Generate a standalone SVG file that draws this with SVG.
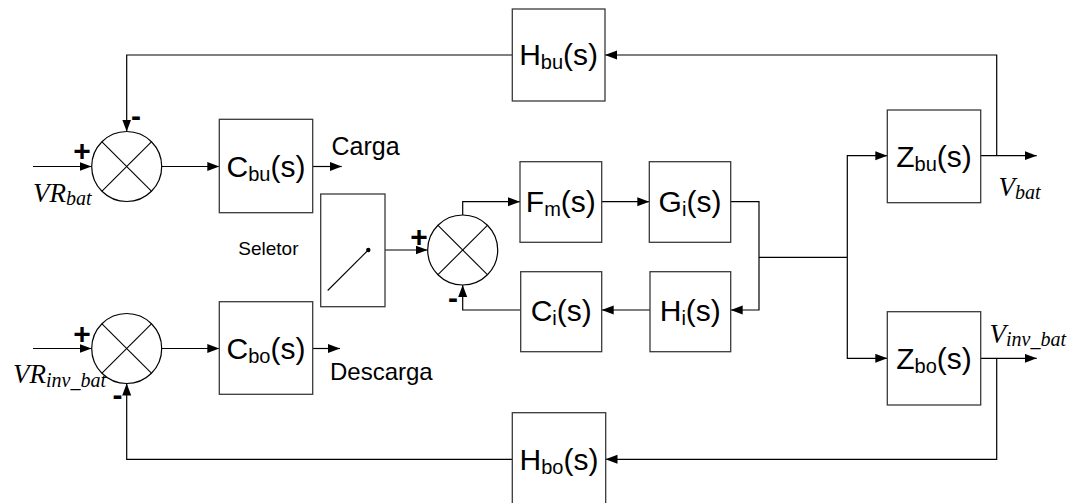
<svg xmlns="http://www.w3.org/2000/svg" width="1068" height="503" viewBox="0 0 1068 503">
<style>
.box{fill:#fff;stroke:#3a3a3a;stroke-width:1.3}
.sum{fill:#fff;stroke:#000;stroke-width:1.2}
.x{stroke:#000;stroke-width:1.1}
.w{fill:none;stroke:#000;stroke-width:1.2}
.wa{fill:none;stroke:#000;stroke-width:1.2;marker-end:url(#ah)}
.bt{font-family:"Liberation Sans",Arial,sans-serif;font-size:30px;fill:#000;text-anchor:middle}
.sub{font-size:20px}
.lb{font-family:"Liberation Sans",Arial,sans-serif;font-size:25px;fill:#000}
.sg{font-family:"Liberation Sans",Arial,sans-serif;font-size:30px;font-weight:bold;fill:#000;text-anchor:middle}
.mv{font-family:"Liberation Serif","Times New Roman",serif;font-style:italic;font-size:27px;fill:#000}
.ms{font-size:20px}
</style>
<defs>
<marker id="ah" markerUnits="userSpaceOnUse" markerWidth="13" markerHeight="10" refX="12" refY="4.5" orient="auto">
<path d="M0,0 L12,4.5 L0,9 z" fill="#000"/>
</marker>
</defs>

<g id="connectors">
<path class="wa" d="M33,166.5 H91.5"/>
<path class="wa" d="M161.5,166.5 H219.3"/>
<path class="wa" d="M312.7,166.5 H341.7"/>
<path class="wa" d="M996.7,155.7 V55 H605"/>
<path class="wa" d="M512.3,55 H126.7 V131.5"/>
<path class="wa" d="M33,348.5 H91.5"/>
<path class="wa" d="M161.5,348.5 H219.3"/>
<path class="wa" d="M312.7,348.5 H340"/>
<path class="wa" d="M996.7,358.3 V459.3 H605.5"/>
<path class="wa" d="M512.3,459.3 H126.7 V383.5"/>
<path class="wa" d="M368.3,250 H427.5"/>
<path class="wa" d="M462.7,215 V201.7 H520"/>
<path class="wa" d="M601.7,201.7 H649.3"/>
<path class="wa" d="M730.7,201.7 H759 V310 H730.7"/>
<path class="wa" d="M650,310 H601.7"/>
<path class="wa" d="M520.7,310 H462.7 V285"/>
<path class="w" d="M759,257.3 H847.3"/>
<path class="wa" d="M847.3,257.3 V155.7 H887.3"/>
<path class="wa" d="M847.3,257.3 V358.3 H887.3"/>
<path class="wa" d="M980.7,155.7 H1036.7"/>
<path class="wa" d="M980.7,358.3 H1036.7"/>
</g>

<g id="sum1">
<circle class="sum" cx="126.7" cy="166.5" r="35"/>
<line class="x" x1="102" y1="141.8" x2="151.4" y2="191.2"/>
<line class="x" x1="151.4" y1="141.8" x2="102" y2="191.2"/>
<text class="sg" x="82" y="161">+</text>
<text class="sg" x="136" y="126">-</text>
</g>

<g id="sum2">
<circle class="sum" cx="126.7" cy="348.5" r="35"/>
<line class="x" x1="102" y1="323.8" x2="151.4" y2="373.2"/>
<line class="x" x1="151.4" y1="323.8" x2="102" y2="373.2"/>
<text class="sg" x="82" y="344">+</text>
<text class="sg" x="117.5" y="405">-</text>
</g>

<g id="sum3">
<circle class="sum" cx="462.7" cy="250" r="35"/>
<line class="x" x1="438" y1="225.3" x2="487.4" y2="274.7"/>
<line class="x" x1="487.4" y1="225.3" x2="438" y2="274.7"/>
<text class="sg" x="419" y="246.5">+</text>
<text class="sg" x="453" y="307.5">-</text>
</g>

<g id="in-vrbat">
<text class="mv" x="33" y="201.7">VR<tspan class="ms" dy="3.5">bat</tspan></text>
</g>
<g id="in-vrinvbat">
<text class="mv" x="13" y="383.3">VR<tspan class="ms" dy="3.5">inv_bat</tspan></text>
</g>

<g id="Cbu">
<rect class="box" x="219.3" y="119.3" width="93.4" height="93.4"/>
<text class="bt" x="266" y="177">C<tspan class="sub" dy="4">bu</tspan><tspan dy="-4">(s)</tspan></text>
</g>
<text class="lb" x="331.5" y="155">Carga</text>

<g id="Cbo">
<rect class="box" x="219.3" y="301.7" width="93.4" height="92.6"/>
<text class="bt" x="266" y="359">C<tspan class="sub" dy="4">bo</tspan><tspan dy="-4">(s)</tspan></text>
</g>
<text class="lb" x="330" y="380" style="font-size:24px">Descarga</text>

<g id="Hbu">
<rect class="box" x="512.3" y="9" width="92.7" height="92"/>
<text class="bt" x="558.6" y="65">H<tspan class="sub" dy="4">bu</tspan><tspan dy="-4">(s)</tspan></text>
</g>

<g id="Hbo">
<rect class="box" x="512.3" y="412.7" width="93.4" height="92"/>
<text class="bt" x="559" y="469.5">H<tspan class="sub" dy="4">bo</tspan><tspan dy="-4">(s)</tspan></text>
</g>

<g id="selector">
<text class="lb" x="238.3" y="255" style="font-size:19px">Seletor</text>
<rect class="box" x="320.7" y="194" width="64.3" height="112.7"/>
<line x1="327.7" y1="290.5" x2="368.3" y2="250" stroke="#000" stroke-width="1.1"/>
<circle cx="368.3" cy="250" r="2.2" fill="#000"/>
</g>

<g id="Fm">
<rect class="box" x="520" y="161.7" width="81.7" height="80.6"/>
<text class="bt" x="560.8" y="212">F<tspan class="sub" dy="4">m</tspan><tspan dy="-4">(s)</tspan></text>
</g>

<g id="Gi">
<rect class="box" x="649.3" y="161.7" width="81.4" height="80.6"/>
<text class="bt" x="690" y="212">G<tspan class="sub" dy="4">i</tspan><tspan dy="-4">(s)</tspan></text>
</g>

<g id="Hi">
<rect class="box" x="650" y="271.7" width="80.7" height="80"/>
<text class="bt" x="690.3" y="321">H<tspan class="sub" dy="4">i</tspan><tspan dy="-4">(s)</tspan></text>
</g>

<g id="Ci">
<rect class="box" x="520.7" y="271.7" width="81" height="80"/>
<text class="bt" x="561.2" y="321">C<tspan class="sub" dy="4">i</tspan><tspan dy="-4">(s)</tspan></text>
</g>

<g id="Zbu">
<rect class="box" x="887.3" y="110" width="93.4" height="92.7"/>
<text class="bt" x="934" y="167">Z<tspan class="sub" dy="4">bu</tspan><tspan dy="-4">(s)</tspan></text>
</g>
<g id="out-vbat">
<text class="mv" x="998.5" y="196">V<tspan class="ms" dy="3">bat</tspan></text>
</g>

<g id="Zbo">
<rect class="box" x="887.3" y="311.7" width="93.4" height="93.3"/>
<text class="bt" x="934" y="369">Z<tspan class="sub" dy="4">bo</tspan><tspan dy="-4">(s)</tspan></text>
</g>
<g id="out-vinvbat">
<text class="mv" x="989.5" y="343">V<tspan class="ms" dy="3">inv_bat</tspan></text>
</g>
</svg>
